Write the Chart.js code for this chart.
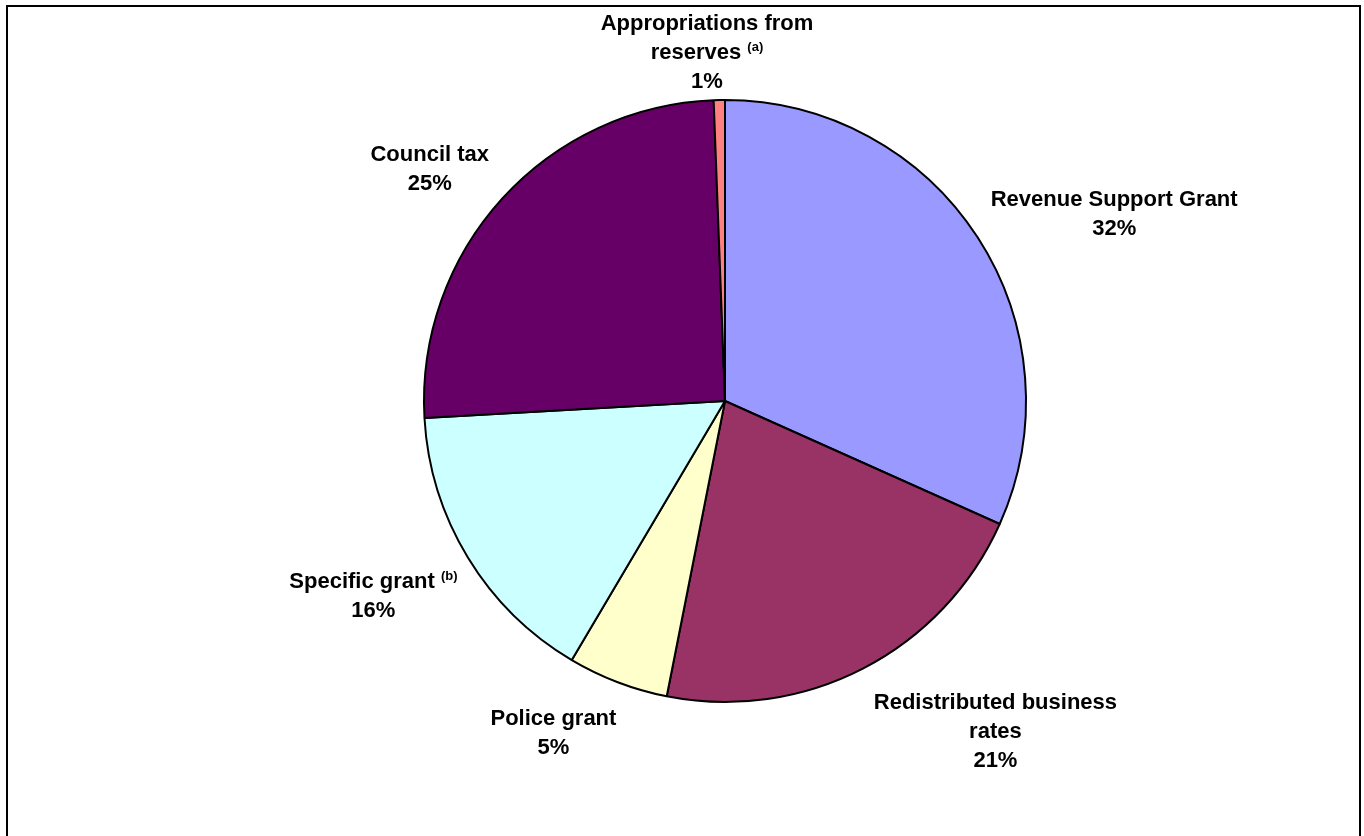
<!DOCTYPE html>
<html>
<head>
<meta charset="utf-8">
<script src="https://cdn.jsdelivr.net/npm/chart.js@4.4.1/dist/chart.umd.min.js"></script>
<style>
  html, body { margin: 0; padding: 0; background: #ffffff; overflow: hidden; }
  #wrap { position: relative; width: 1364px; height: 836px; }
  #frame { position: absolute; left: 6px; top: 5px; width: 1355px; height: 900px;
           box-sizing: border-box; border: 2px solid #000; border-bottom: none; pointer-events: none; }
  canvas { position: absolute; left: 0; top: 0; }
</style>
</head>
<body>
<div id="wrap">
  <canvas id="c" width="1364" height="836"></canvas>
  <div id="frame"></div>
</div>
<script>
// ---- data ----
const categories = [
  ['Revenue Support Grant'],
  ['Redistributed business', 'rates'],
  ['Police grant'],
  ['Specific grant'],
  ['Council tax'],
  ['Appropriations from', 'reserves']
];
const footnotes = ['', '', '', '(b)', '', '(a)'];
const shares = [31.7, 21.4, 5.4, 15.6, 25.3, 0.6];
const colours = ['#9999FF', '#993366', '#FFFFCC', '#CCFFFF', '#660066', '#FF8080'];

// ---- label styling (fine nudges for the text blocks, in px) ----
const labelNudges = [[-2, 14], [12, 2], [-13, 4], [5, -1], [0, 10], [-8, 13]];
const FONT_FAMILY = '"Liberation Sans", Arial, Helvetica, sans-serif';
const FONT_SIZE = 22;
const NOTE_SIZE = 13;
const LINE_PITCH = 29;
const LABEL_GAP = 18;

const outsideLabels = {
  id: 'outsideLabels',
  afterDatasetsDraw(chart) {
    const ctx = chart.ctx;
    const meta = chart.getDatasetMeta(0);
    const data = chart.data.datasets[0].data;
    const total = data.reduce((a, b) => a + b, 0);
    ctx.save();
    ctx.fillStyle = '#000';
    ctx.textBaseline = 'alphabetic';
    meta.data.forEach((arc, i) => {
      const p = arc.getProps(['x', 'y', 'startAngle', 'endAngle', 'outerRadius'], true);
      const mid = (p.startAngle + p.endAngle) / 2;
      const cosA = Math.cos(mid), sinA = Math.sin(mid); // canvas angle (0 = 3 o'clock)
      const r = p.outerRadius + LABEL_GAP;
      const ax = p.x + cosA * r;
      const ay = p.y + sinA * r;
      const lines = categories[i].map((t, k) => ({
        text: t,
        note: (k === categories[i].length - 1) ? footnotes[i] : ''
      }));
      lines.push({ text: Math.round(data[i] / total * 100) + '%', note: '' });
      const mainFont = 'bold ' + FONT_SIZE + 'px ' + FONT_FAMILY;
      const noteFont = 'bold ' + NOTE_SIZE + 'px ' + FONT_FAMILY;
      lines.forEach(l => {
        ctx.font = mainFont;
        l.mw = ctx.measureText(l.text).width;
        l.sw = ctx.measureText(' ').width;
        ctx.font = noteFont;
        l.nw = l.note ? ctx.measureText(l.note).width : 0;
        l.w = l.mw + (l.note ? l.sw + l.nw : 0);
      });
      const w = Math.max(...lines.map(l => l.w));
      const h = lines.length * LINE_PITCH;
      const clamp = v => Math.max(-1, Math.min(1, v));
      const fx = clamp(cosA * 2), fy = clamp(sinA * 2);
      const cx = ax + fx * w / 2 + labelNudges[i][0];
      const cy = ay + fy * h / 2 + labelNudges[i][1];
      lines.forEach((l, k) => {
        const baseY = cy - h / 2 + LINE_PITCH * (k + 0.5) + FONT_SIZE * 0.36;
        const x0 = cx - l.w / 2;
        ctx.font = mainFont;
        ctx.textAlign = 'left';
        ctx.fillText(l.text, x0, baseY);
        if (l.note) {
          ctx.font = noteFont;
          ctx.fillText(l.note, x0 + l.mw + l.sw, baseY - 8);
        }
      });
    });
    ctx.restore();
  }
};

new Chart(document.getElementById('c'), {
  type: 'pie',
  data: {
    labels: categories.map(c => c.join(' ')),
    datasets: [{
      data: shares,
      backgroundColor: colours,
      borderColor: '#000000',
      borderWidth: 2
    }]
  },
  options: {
    responsive: false,
    animation: false,
    devicePixelRatio: 1,
    layout: { padding: { left: 423, top: 99, right: 337, bottom: 133 } },
    plugins: {
      legend: { display: false },
      tooltip: { enabled: false },
      title: { display: false }
    }
  },
  plugins: [outsideLabels]
});
</script>
</body>
</html>
